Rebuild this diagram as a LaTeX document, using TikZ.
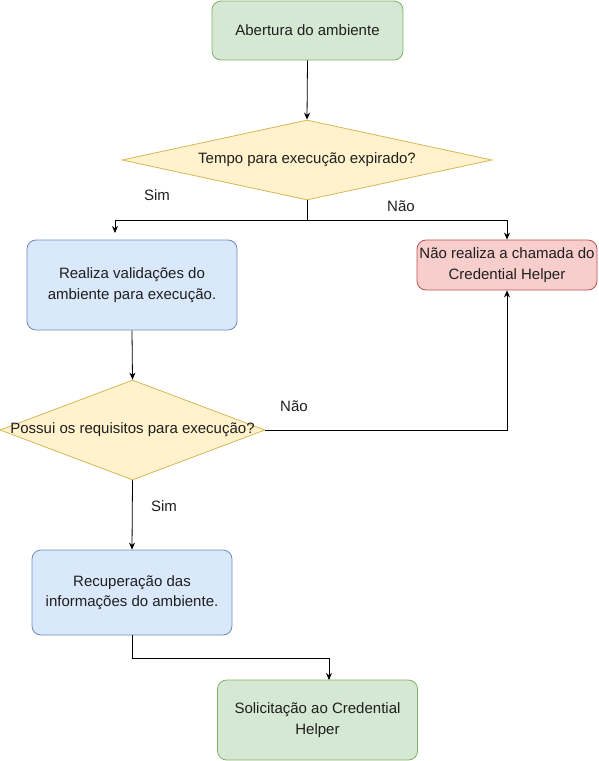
\documentclass[tikz,border=0pt]{standalone}
\usepackage{fontspec}
\setmainfont{Liberation Sans}
\usetikzlibrary{shapes.geometric,arrows.meta}
\definecolor{gfill}{HTML}{D5E8D4}\definecolor{gline}{HTML}{82B366}
\definecolor{bfill}{HTML}{DAE8FC}\definecolor{bline}{HTML}{6C8EBF}
\definecolor{rfill}{HTML}{F8CECC}\definecolor{rline}{HTML}{B85450}
\definecolor{yfill}{HTML}{FFF2CC}\definecolor{yline}{HTML}{D6B656}
\begin{document}
\begin{tikzpicture}[x=1pt,y=-1pt,
  every node/.style={font=\fontsize{15}{20.5}\selectfont, text=black!88},
  box/.style={rectangle, rounded corners=9pt, line width=0.8pt, inner sep=0pt, align=center},
  gbox/.style={box, fill=gfill, draw=gline},
  bbox/.style={box, fill=bfill, draw=bline},
  rbox/.style={box, fill=rfill, draw=rline},
  dec/.style={diamond, fill=yfill, draw=yline, line width=0.8pt, inner sep=0pt},
  conn/.style={line width=0.8pt, -{Stealth[length=7pt,width=6pt]}},
  lbl/.style={inner sep=0pt}]
\useasboundingbox (0,0) rectangle (599,761);
\node[gbox, minimum width=191, minimum height=59] (start) at (307.5,30.5) {Abertura do ambiente};
\node[dec, minimum width=370, minimum height=80] (d1) at (307,160) {};
\node at (d1) {Tempo para execução expirado?};
\node[bbox, minimum width=210, minimum height=90] (val) at (132,285) {Realiza validações do\\ambiente para execução.};
\node[rbox, minimum width=180, minimum height=50] (nao) at (507,265) {Não realiza a chamada do\\Credential Helper};
\node[dec, minimum width=265, minimum height=100] (d2) at (132.5,430) {};
\node at (d2) {Possui os requisitos para execução?};
\node[bbox, minimum width=200, minimum height=85] (rec) at (132,592.5) {Recuperação das\\informações do ambiente.};
\node[gbox, minimum width=200, minimum height=80] (sol) at (317.5,720) {Solicitação ao Credential\\Helper};
\coordinate (simend) at (115,233);
\coordinate (simturn) at (115,220);
\coordinate (naoturn) at (507,220);
\coordinate (d2turn) at (507,430);
\coordinate (recturn) at (132,658);
\coordinate (solturn) at (329,658);
\coordinate (solend) at (329,680);
\draw[conn] (start.south) -- (d1.north);
\draw[conn] (d1.south) |- (simturn) -- (simend);
\draw[conn] (d1.south) |- (naoturn) -- (nao.north);
\draw[conn] (val.south) -- (d2.north);
\draw[conn] (d2.east) -- (d2turn) -- (nao.south);
\draw[conn] (d2.south) -- (rec.north);
\draw[conn] (rec.south) -- (recturn) -- (solturn) -- (solend);
\node[lbl] (lsim1) at (157,195) {Sim};
\node[lbl] (lnao1) at (401,206) {Não};
\node[lbl] (lnao2) at (294,406) {Não};
\node[lbl] (lsim2) at (164,506) {Sim};
\end{tikzpicture}
\end{document}
